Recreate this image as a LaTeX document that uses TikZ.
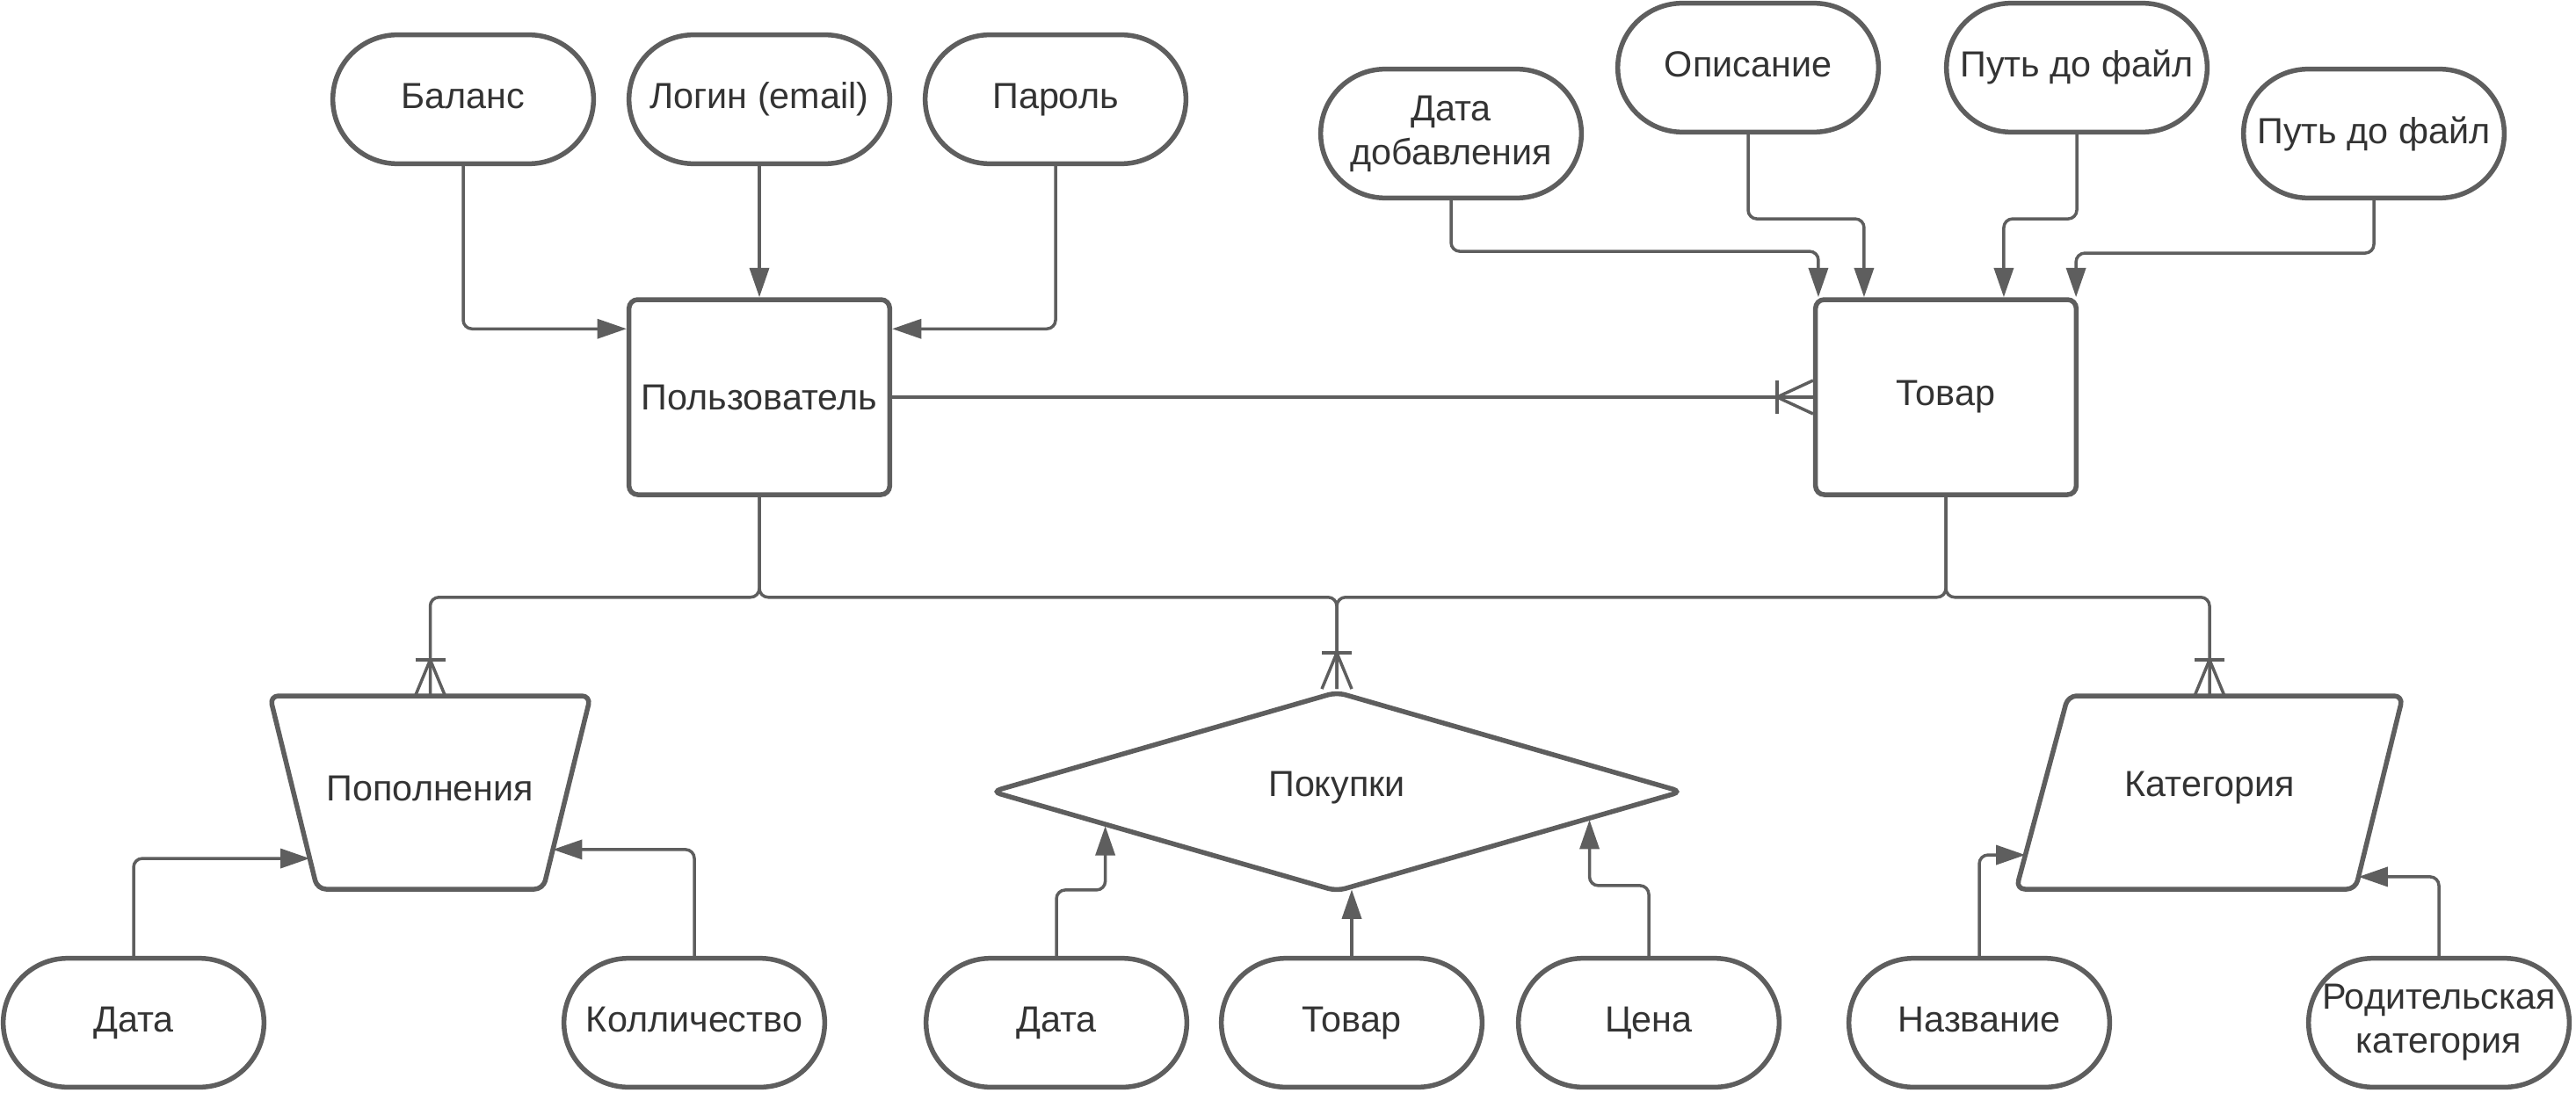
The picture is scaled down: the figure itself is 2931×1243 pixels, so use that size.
\documentclass[tikz,border=0pt]{standalone}
\usepackage{fontspec}
\setmainfont{Liberation Sans}
\usetikzlibrary{arrows.meta,calc,shapes.geometric}
\definecolor{ln}{HTML}{5E5E5E}
\definecolor{tx}{HTML}{333333}
\begin{document}
\begin{tikzpicture}[x=0.3pt,y=-0.3pt,
  lbl/.style={text=tx,font=\fontsize{12.4}{15}\selectfont,align=center,inner sep=1pt},
  attr/.style={lbl,draw=ln,line width=1.65pt,rounded corners=22pt,minimum width=89pt,minimum height=44pt},
  one/.style={text height=9pt,text depth=2.6pt},
  ent/.style={lbl,draw=ln,line width=1.65pt,rounded corners=3pt,minimum width=89pt,minimum height=66.6pt},
  shp/.style={draw=ln,line width=1.65pt,rounded corners=3pt,line join=round},
  con/.style={draw=ln,line width=1.05pt,rounded corners=3pt},
  arr/.style={con,-{Triangle[length=10pt,width=6.6pt]}},
  crow/.style={draw=ln,line width=1.05pt}
]
\useasboundingbox (0,0) rectangle (2931,1243);

% top attributes
\node[attr,one] (balans) at (527,113) {Баланс};
\node[attr,one] (login) at (864,113) {Логин (email)};
\node[attr,one] (parol) at (1201,113) {Пароль};
\node[attr] (datadob) at (1651,152) {Дата\\добавления};
\node[attr,one] (opis) at (1989,77) {Описание};
\node[attr,one] (put1) at (2363,77) {Путь до файл};
\node[attr] (put2) at (2701,152) {Путь до файл};

% entities
\node[ent] (polz) at (864,452) {Пользователь};
\node[ent] (tovar) at (2214,452) {Товар};

% Пополнения (trapezoid)
\coordinate (popTL) at (307,792);
\coordinate (popTR) at (672,792);
\coordinate (popBR) at (618,1012);
\coordinate (popBL) at (361,1012);
\draw[shp] (popTL) -- (popTR) -- (popBR) -- (popBL) -- cycle;
\node[lbl] (pop) at (489.5,897) {Пополнения};
\coordinate (popT) at ($(popTL)!0.5!(popTR)$);
\coordinate (popL) at ($(popTL)!0.841!(popBL)$);
\coordinate (popR) at ($(popTR)!0.795!(popBR)$);

% Покупки (diamond)
\node[lbl,shape=diamond,draw=ln,line width=1.65pt,rounded corners=3pt,aspect=3.47,inner sep=0pt,minimum width=236pt,minimum height=68.5pt] (pok) at (1521,901) {};
\node[lbl] (poktxt) at (1521,897) {Покупки};
\coordinate (pokA) at ($(pok.west)!0.335!(pok.south)$);
\coordinate (pokB) at ($(pok.south)!0.047!(pok.east)$);
\coordinate (pokC) at ($(pok.south)!0.726!(pok.east)$);

% Категория (parallelogram)
\coordinate (katTL) at (2353,792);
\coordinate (katTR) at (2734,792);
\coordinate (katBR) at (2680,1012);
\coordinate (katBL) at (2294,1012);
\draw[shp] (katTL) -- (katTR) -- (katBR) -- (katBL) -- cycle;
\node[lbl] (kat) at (2514,897) {Категория};
\coordinate (katT) at (2514,792);
\coordinate (katL) at ($(katTL)!0.823!(katBL)$);
\coordinate (katR) at ($(katTR)!0.936!(katBR)$);

% bottom attributes
\node[attr,one] (data1) at (152,1164) {Дата};
\node[attr,one] (koll) at (790,1164) {Колличество};
\node[attr,one] (data2) at (1202,1164) {Дата};
\node[attr,one] (tovar2) at (1538,1164) {Товар};
\node[attr,one] (cena) at (1876,1164) {Цена};
\node[attr,one] (nazv) at (2252,1164) {Название};
\node[attr] (rod) at (2775,1164) {Родительская\\категория};

% top connectors
\draw[arr] (balans.south) |- ($(polz.north west)+(0,36)$);
\draw[arr] (login.south) -- (polz.north);
\draw[arr] (parol.south) |- ($(polz.north east)+(0,36)$);
\draw[arr] (datadob.south) -- ++(0,58) -| ($(tovar.north west)+(6,0)$);
\draw[arr] (opis.south) -- ++(0,96) -| ($(tovar.north west)+(58,0)$);
\draw[arr] (put1.south) -- ++(0,96) -| ($(tovar.north west)+(217,0)$);
\draw[arr] (put2.south) -- ++(0,60) -| ($(tovar.north east)+(-3,0)$);

% relation Пользователь - Товар
\draw[con] (polz.east) -- (tovar.west);
\draw[crow] ($(tovar.west)+(-41,-19)$) -- ($(tovar.west)+(-41,19)$);
\draw[crow] ($(tovar.west)+(0,-19)$) -- ($(tovar.west)+(-41,0)$) -- ($(tovar.west)+(0,19)$);

% trunks down
\draw[con] (polz.south) -- ++(0,114) -| (popT);
\draw[con] (polz.south) -- ++(0,114) -| (pok.north);
\draw[con] (tovar.south) -- ++(0,114) -| (pok.north);
\draw[con] (tovar.south) -- ++(0,114) -| (katT);

% crow's feet at bottom entities
\foreach \p in {popT,pok.north,katT}{
  \draw[crow] ($(\p)+(-17,-41)$) -- ($(\p)+(17,-41)$);
  \draw[crow] ($(\p)+(-17,0)$) -- ($(\p)+(0,-41)$) -- ($(\p)+(17,0)$);
}

% bottom connectors
\draw[arr] (data1.north) |- (popL);
\draw[arr] (koll.north) |- (popR);
\draw[arr] (data2.north) -- ++(0,-75) -| (pokA);
\draw[arr] (tovar2.north) -- (tovar2.north |- pokB);
\draw[arr] (cena.north) -- ++(0,-80) -| (pokC);
\draw[arr] (nazv.north) |- (katL);
\draw[arr] (rod.north) |- (katR);
\end{tikzpicture}
\end{document}
